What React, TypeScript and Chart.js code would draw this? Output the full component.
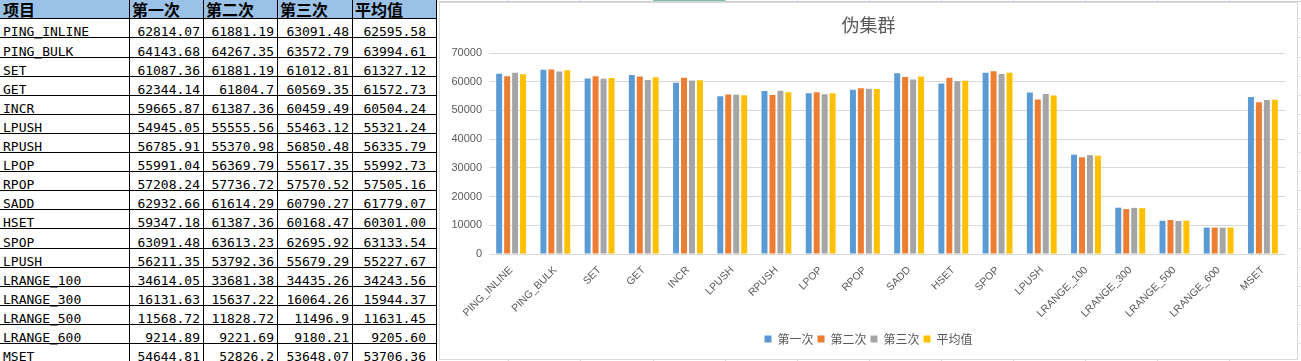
import React, { useEffect, useRef } from 'react';
import { Chart, registerables } from 'chart.js';

Chart.register(...registerables);

// ---------- data ----------
const chartTitle = '伪集群';
const firstHeader = '项目';
const seriesNames = ['第一次', '第二次', '第三次', '平均值'];
const categories = [
  'PING_INLINE', 'PING_BULK', 'SET', 'GET', 'INCR', 'LPUSH', 'RPUSH', 'LPOP', 'RPOP',
  'SADD', 'HSET', 'SPOP', 'LPUSH', 'LRANGE_100', 'LRANGE_300', 'LRANGE_500', 'LRANGE_600', 'MSET',
];
const run1 = [62814.07, 64143.68, 61087.36, 62344.14, 59665.87, 54945.05, 56785.91, 55991.04, 57208.24,
  62932.66, 59347.18, 63091.48, 56211.35, 34614.05, 16131.63, 11568.72, 9214.89, 54644.81];
const run2 = [61881.19, 64267.35, 61881.19, 61804.7, 61387.36, 55555.56, 55370.98, 56369.79, 57736.72,
  61614.29, 61387.36, 63613.23, 53792.36, 33681.38, 15637.22, 11828.72, 9221.69, 52826.2];
const run3 = [63091.48, 63572.79, 61012.81, 60569.35, 60459.49, 55463.12, 56850.48, 55617.35, 57570.52,
  60790.27, 60168.47, 62695.92, 55679.29, 34435.26, 16064.26, 11496.9, 9180.21, 53648.07];
const average = [62595.58, 63994.61, 61327.12, 61572.73, 60504.24, 55321.24, 56335.79, 55992.73, 57505.16,
  61779.07, 60301.0, 63133.54, 55227.67, 34243.56, 15944.37, 11631.45, 9205.6, 53706.36];
const yMin = 0;
const yMax = 70000;
const yStep = 10000;

// ---------- styles ----------
const seriesColors = ['#5B9BD5', '#ED7D31', '#A5A5A5', '#FFC000'];
const textGray = '#595959';
const gridGray = '#D9D9D9';
const cjkFont = '"Noto Sans CJK SC", "Noto Sans", sans-serif';
const latinFont = '"Liberation Sans", Arial, sans-serif';
const monoFont = '"DejaVu Sans Mono", "Liberation Mono", monospace';

const colEdges = [0, 129, 203, 277, 352, 436];
const lineY = (k: number) => Math.round(18.3 + 19.1 * k);

function SheetTable() {
  const header = [firstHeader, ...seriesNames];
  const rows = categories.map((c, i) => [
    c,
    String(run1[i]),
    String(run2[i]),
    String(run3[i]),
    average[i].toFixed(2),
  ]);
  const els: React.ReactNode[] = [];
  els.push(
    <div key="hbg" style={{ position: 'absolute', left: 0, top: 0, width: 436, height: lineY(0), background: '#9BC2E6' }} />
  );
  header.forEach((h, c) => {
    els.push(
      <div
        key={'h' + c}
        style={{
          position: 'absolute', left: colEdges[c] + 3, top: -1, lineHeight: '20px',
          fontFamily: cjkFont, fontWeight: 700, fontSize: 16, color: '#000', whiteSpace: 'nowrap',
        }}
      >
        {h}
      </div>
    );
  });
  rows.forEach((r, i) => {
    const baseline = lineY(i + 1) - 1;
    r.forEach((t, c) => {
      const style: React.CSSProperties = {
        position: 'absolute', top: baseline - 12, lineHeight: '15px', fontFamily: monoFont,
        fontSize: 13, color: '#000', whiteSpace: 'nowrap',
      };
      if (c === 0) {
        style.left = 3;
      } else {
        const right = c === 4 ? 426 : colEdges[c + 1] - 3;
        style.left = colEdges[c];
        style.width = right - colEdges[c];
        style.textAlign = 'right';
      }
      els.push(<div key={`c${i}-${c}`} style={style}>{t}</div>);
    });
  });
  for (let k = 0; k <= categories.length; k++) {
    els.push(<div key={'hl' + k} style={{ position: 'absolute', left: 0, top: lineY(k), width: 437, height: 1, background: '#000' }} />);
  }
  colEdges.slice(1).forEach((x, j) => {
    els.push(<div key={'vl' + j} style={{ position: 'absolute', left: x, top: 0, width: 1, height: 361, background: '#000' }} />);
  });
  return <>{els}</>;
}

function SheetBackdrop() {
  const els: React.ReactNode[] = [];
  for (let k = 0; k <= categories.length; k++) {
    els.push(<div key={'g' + k} style={{ position: 'absolute', left: 437, top: lineY(k), width: 864, height: 1, background: '#E2E2E2' }} />);
  }
  for (let n = 0; n < 12; n++) {
    const x = Math.round(508.3 + 72.1 * n);
    els.push(<div key={'v' + n} style={{ position: 'absolute', left: x, top: 0, width: 1, height: 361, background: '#D6D6DE' }} />);
  }
  els.push(<div key="top" style={{ position: 'absolute', left: 437, top: 1, width: 864, height: 1, background: '#CFCFDC' }} />);
  els.push(<div key="sel" style={{ position: 'absolute', left: 653, top: 0, width: 72, height: 1, background: '#7CC4A0' }} />);
  return <>{els}</>;
}

export default function App() {
  const canvasRef = useRef<HTMLCanvasElement | null>(null);

  useEffect(() => {
    const canvas = canvasRef.current;
    if (!canvas) return;
    const seriesData = [run1, run2, run3, average];
    const chart = new Chart(canvas, {
      type: 'bar',
      data: {
        labels: categories,
        datasets: seriesNames.map((name, i) => ({
          label: name,
          data: seriesData[i],
          backgroundColor: seriesColors[i],
          borderWidth: 0,
          categoryPercentage: 0.72,
          barPercentage: 0.75,
        })),
      },
      options: {
        animation: false,
        responsive: false,
        maintainAspectRatio: false,
        devicePixelRatio: 1,
        layout: { padding: { left: 0, right: 0, top: 0, bottom: 4 } },
        plugins: {
          title: {
            display: true,
            text: chartTitle,
            color: textGray,
            font: { family: cjkFont, size: 18, weight: 'normal' },
            padding: { top: 11, bottom: 17.4 },
          },
          legend: {
            position: 'bottom',
            labels: {
              boxWidth: 7,
              boxHeight: 7,
              padding: 4,
              color: textGray,
              font: { family: cjkFont, size: 12 },
            },
          },
          tooltip: { enabled: false },
        },
        scales: {
          x: {
            grid: { display: false, drawTicks: false },
            border: { display: false },
            ticks: {
              autoSkip: false,
              maxRotation: 45,
              minRotation: 45,
              padding: 10,
              color: textGray,
              font: { family: latinFont, size: 10.5 },
            },
            afterFit: (s: any) => { s.height = 75; },
          },
          y: {
            min: yMin,
            max: yMax,
            ticks: {
              stepSize: yStep,
              padding: 7,
              color: textGray,
              font: { family: latinFont, size: 11 },
              callback: (v: any) => String(v),
            },
            grid: { color: gridGray, drawTicks: false, lineWidth: 1 },
            border: { display: false },
            afterFit: (s: any) => { s.width = 49; },
          },
          yRightSpacer: {
            type: 'linear',
            position: 'right',
            display: true,
            grid: { display: false, drawTicks: false },
            border: { display: false },
            ticks: { display: false },
            afterFit: (s: any) => { s.width = 12; },
          },
        },
      } as any,
    });
    return () => chart.destroy();
  }, []);

  return (
    <div style={{ position: 'absolute', left: 0, top: 0, width: 1301, height: 361, overflow: 'hidden', background: '#fff' }}>
      <SheetBackdrop />
      <SheetTable />
      <div
        style={{
          position: 'absolute', left: 439, top: 2, width: 859, height: 358, boxSizing: 'border-box',
          border: '1px solid ' + gridGray, background: '#fff',
        }}
      >
        <canvas ref={canvasRef} width={857} height={356} style={{ display: 'block', width: 857, height: 356 }} />
      </div>
    </div>
  );
}
